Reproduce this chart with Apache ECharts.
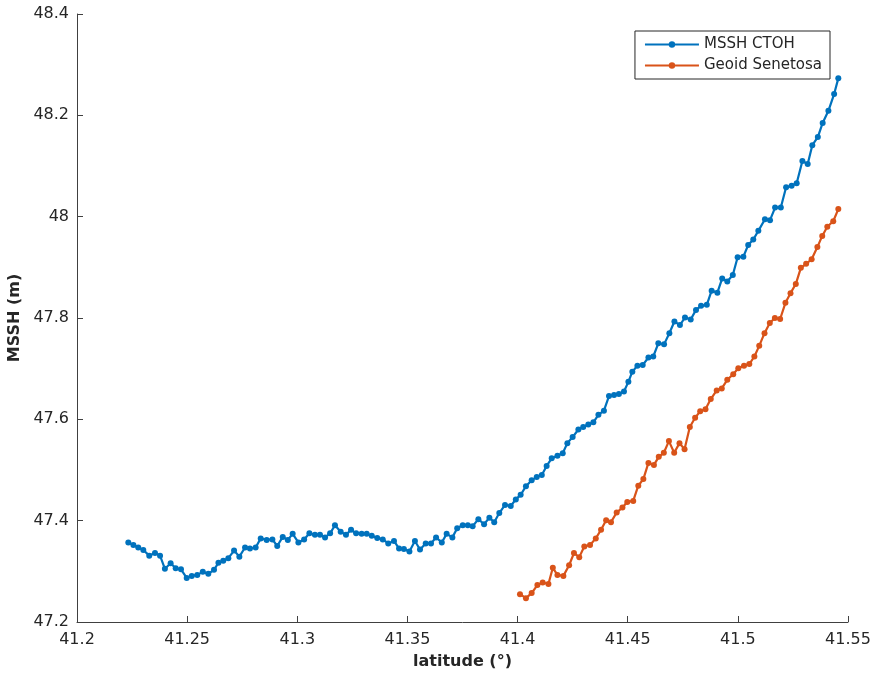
<!DOCTYPE html>
<html>
<head>
<meta charset="utf-8">
<script src="https://cdn.jsdelivr.net/npm/echarts@6/dist/echarts.min.js"></script>
<style>
  html, body { margin: 0; padding: 0; background: #fff; }
  #chart { width: 876px; height: 674px; }
</style>
</head>
<body>
<div id="chart"></div>
<script>
// MSSH CTOH
var mssLat = [41.2233,41.2256,41.2278,41.2301,41.2328,41.2354,41.2377,41.2399,41.2425,41.2448,
  41.2472,41.2498,41.2521,41.2546,41.2571,41.2596,41.2622,41.2642,41.2664,41.2687,
  41.2713,41.2737,41.2763,41.2785,41.2811,41.2834,41.2861,41.2887,41.2909,41.2934,
  41.2957,41.2979,41.3005,41.3031,41.3055,41.3080,41.3103,41.3126,41.3149,41.3171,
  41.3197,41.3221,41.3244,41.3267,41.3292,41.3315,41.3338,41.3363,41.3388,41.3413,
  41.3439,41.3462,41.3484,41.3509,41.3534,41.3557,41.3583,41.3607,41.3630,41.3656,
  41.3678,41.3704,41.3726,41.3751,41.3774,41.3796,41.3822,41.3848,41.3872,41.3894,
  41.3917,41.3943,41.3969,41.3992,41.4014,41.4038,41.4064,41.4087,41.4110,41.4132,
  41.4155,41.4181,41.4205,41.4226,41.4250,41.4276,41.4298,41.4321,41.4344,41.4367,
  41.4392,41.4415,41.4438,41.4460,41.4483,41.4503,41.4521,41.4544,41.4568,41.4594,
  41.4616,41.4639,41.4665,41.4689,41.4712,41.4737,41.4760,41.4786,41.4810,41.4833,
  41.4859,41.4881,41.4907,41.4929,41.4952,41.4977,41.4999,41.5025,41.5047,41.5070,
  41.5093,41.5123,41.5146,41.5169,41.5195,41.5219,41.5244,41.5267,41.5293,41.5317,
  41.5338,41.5363,41.5385,41.5411,41.5437,41.5456];
var mssVal = [47.357,47.352,47.347,47.342,47.331,47.336,47.331,47.305,47.316,47.306,
  47.304,47.287,47.291,47.293,47.299,47.295,47.303,47.317,47.321,47.326,
  47.341,47.329,47.347,47.345,47.347,47.365,47.362,47.363,47.350,47.368,
  47.362,47.374,47.357,47.363,47.375,47.372,47.372,47.367,47.375,47.391,
  47.378,47.372,47.382,47.375,47.374,47.374,47.370,47.366,47.363,47.355,
  47.360,47.345,47.344,47.339,47.360,47.343,47.355,47.355,47.367,47.357,
  47.374,47.367,47.385,47.391,47.391,47.389,47.403,47.393,47.406,47.397,
  47.415,47.431,47.429,47.442,47.451,47.468,47.480,47.486,47.490,47.508,
  47.523,47.528,47.533,47.553,47.565,47.580,47.585,47.590,47.594,47.609,
  47.617,47.646,47.648,47.650,47.655,47.674,47.694,47.706,47.707,47.722,
  47.724,47.750,47.748,47.770,47.793,47.786,47.801,47.797,47.816,47.824,
  47.826,47.854,47.850,47.878,47.872,47.885,47.920,47.921,47.944,47.955,
  47.972,47.995,47.993,48.018,48.018,48.058,48.061,48.066,48.110,48.104,
  48.141,48.157,48.185,48.209,48.242,48.273];

// Geoid Senetosa
var geoLat = [41.4011,41.4038,41.4064,41.4090,41.4114,41.4140,41.4160,41.4181,41.4208,41.4234,
  41.4256,41.4280,41.4303,41.4329,41.4355,41.4379,41.4402,41.4424,41.4450,41.4476,
  41.4498,41.4525,41.4548,41.4571,41.4594,41.4619,41.4641,41.4664,41.4687,41.4711,
  41.4735,41.4758,41.4782,41.4806,41.4829,41.4853,41.4877,41.4904,41.4927,41.4952,
  41.4979,41.5002,41.5028,41.5052,41.5075,41.5097,41.5121,41.5145,41.5168,41.5192,
  41.5216,41.5239,41.5263,41.5286,41.5310,41.5335,41.5361,41.5383,41.5406,41.5433,
  41.5456];
var geoVal = [47.255,47.247,47.257,47.273,47.278,47.275,47.307,47.293,47.291,47.312,
  47.336,47.328,47.349,47.352,47.365,47.382,47.401,47.397,47.416,47.426,
  47.437,47.439,47.469,47.482,47.514,47.510,47.526,47.534,47.557,47.534,
  47.553,47.541,47.585,47.603,47.616,47.620,47.640,47.657,47.661,47.678,
  47.689,47.701,47.706,47.709,47.724,47.745,47.770,47.790,47.800,47.798,
  47.830,47.849,47.867,47.899,47.907,47.916,47.940,47.962,47.980,47.991,
  48.015];

var xTicks = [41.2, 41.55, 0.05];
var yTicks = [47.2, 48.4, 0.2];

function pairs(xs, ys) {
  return xs.map(function (x, i) { return [x, ys[i]]; });
}

var txt = '#262626';
var font = 'DejaVu Sans';

var chart = echarts.init(document.getElementById('chart'));
chart.setOption({
  animation: false,
  textStyle: { fontFamily: font },
  grid: { left: 77, right: 28, top: 14, bottom: 52, outerBoundsMode: 'none', containLabel: false },
  legend: {
    orient: 'vertical',
    right: 46,
    top: 31,
    itemWidth: 54,
    itemHeight: 8,
    itemGap: 4,
    padding: [5, 8, 5, 9],
    borderColor: '#262626',
    borderWidth: 1,
    borderRadius: 0,
    backgroundColor: '#fff',
    textStyle: { fontFamily: font, fontSize: 15, color: txt, lineHeight: 17 },
    data: ['MSSH CTOH', 'Geoid Senetosa']
  },
  xAxis: {
    type: 'value',
    min: xTicks[0], max: xTicks[1], interval: xTicks[2],
    name: 'latitude (°)',
    nameLocation: 'middle',
    nameGap: 32,
    nameTextStyle: { fontFamily: font, fontSize: 16, fontWeight: 'bold', color: txt },
    axisLine: { lineStyle: { color: '#404040', width: 1 } },
    axisTick: { inside: true, length: 6, lineStyle: { color: '#404040' } },
    axisLabel: {
      fontSize: 16, color: txt, margin: 10,
      formatter: function (v) { return String(parseFloat(v.toFixed(2))); }
    },
    splitLine: { show: false }
  },
  yAxis: {
    type: 'value',
    min: yTicks[0], max: yTicks[1], interval: yTicks[2],
    name: 'MSSH (m)',
    nameLocation: 'middle',
    nameGap: 54,
    nameRotate: 90,
    nameTextStyle: { fontFamily: font, fontSize: 16, fontWeight: 'bold', color: txt },
    axisLine: { show: true, lineStyle: { color: '#404040', width: 1 } },
    axisTick: { show: true, inside: true, length: 6, lineStyle: { color: '#404040' } },
    axisLabel: {
      fontSize: 16, color: txt, margin: 8,
      formatter: function (v) { return String(parseFloat(v.toFixed(1))); }
    },
    splitLine: { show: false }
  },
  series: [
    {
      name: 'MSSH CTOH',
      type: 'line',
      data: pairs(mssLat, mssVal),
      color: '#0072BD',
      symbol: 'circle',
      symbolSize: 6,
      showAllSymbol: true,
      lineStyle: { width: 2.2 }
    },
    {
      name: 'Geoid Senetosa',
      type: 'line',
      data: pairs(geoLat, geoVal),
      color: '#D95319',
      symbol: 'circle',
      symbolSize: 6,
      showAllSymbol: true,
      lineStyle: { width: 2.2 }
    }
  ]
});
</script>
</body>
</html>
